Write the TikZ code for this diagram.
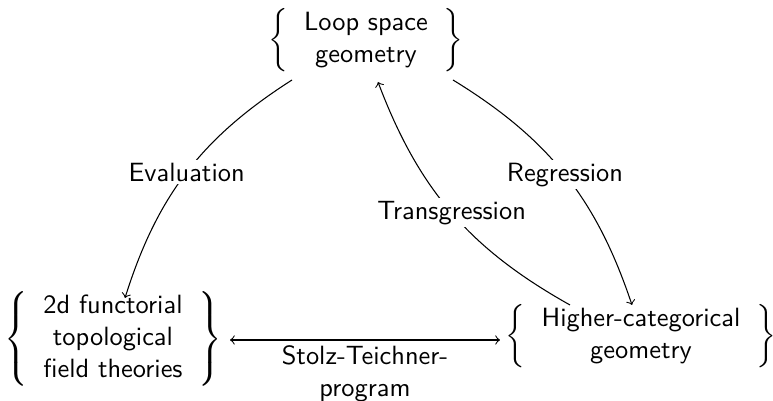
\documentclass[tikz,border=0pt]{standalone}
\usetikzlibrary{calc}
\begin{document}
\begin{tikzpicture}[x=0.37879pt,y=-0.37879pt,font=\sffamily,
  obj/.style={inner sep=0pt,outer sep=0pt},
  lab/.style={fill=white,inner sep=1pt},
  arr/.style={->}]
\useasboundingbox (0,0) rectangle (773,401);
\node[obj] (top) at (366,40) {$\left\{\begin{tabular}{c}Loop space\\geometry\end{tabular}\right\}$};
\node[obj] (bl) at (113,339) {$\left\{\begin{tabular}{c}2d functorial\\topological\\field theories\end{tabular}\right\}$};
\node[obj] (br) at (641,336) {$\left\{\begin{tabular}{c}Higher-categorical\\geometry\end{tabular}\right\}$};
\draw[arr] ($(top)+(-74,40)$) to[bend right=20] node[lab]{Evaluation} ($(bl)+(12,-41)$);
\draw[arr] ($(top)+(87,40)$) to[bend left=20] node[lab]{Regression} ($(br)+(-9,-31)$);
\draw[arr] ($(br)+(-71,-31)$) to[bend left=20] node[lab]{Transgression} ($(top)+(12,42)$);
\draw[<->] ($(bl)+(117,1)$) -- node[below,align=center,inner sep=2pt]{Stolz-Teichner-\\program} ($(br)+(-141,4)$);
\end{tikzpicture}
\end{document}
